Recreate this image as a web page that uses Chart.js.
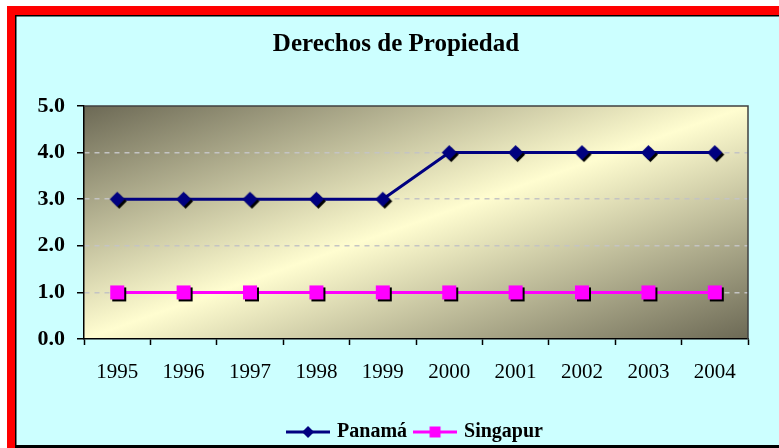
<!DOCTYPE html>
<html>
<head>
<meta charset="utf-8">
<script src="https://cdn.jsdelivr.net/npm/chart.js@4.4.0/dist/chart.umd.min.js"></script>
<style>
  html, body { margin: 0; padding: 0; background: #fff; overflow: hidden; }
  #wrap { width: 779px; height: 448px; }
</style>
</head>
<body>
<div id="wrap"><canvas id="propChart" width="779" height="448"></canvas></div>
<script>
// datos del gráfico
const years = ['1995', '1996', '1997', '1998', '1999', '2000', '2001', '2002', '2003', '2004'];
const panama = [3, 3, 3, 3, 3, 4, 4, 4, 4, 4];
const singapur = [1, 1, 1, 1, 1, 1, 1, 1, 1, 1];
const yMin = 0;
const yMax = 5;
const yStep = 1;

// marcador con sombra negra (como en Excel)
function makeMarker(shape, color, size, shadow) {
    const off = shadow ? 2 : 0;
    const dim = Math.ceil(size + 2 * off + 2);
    const c = document.createElement('canvas');
    c.width = dim;
    c.height = dim;
    const g = c.getContext('2d');
    const mid = dim / 2;
    const draw = (d, fill) => {
        g.fillStyle = fill;
        g.beginPath();
        if (shape === 'diamond') {
            g.moveTo(mid + d, mid + d - size / 2);
            g.lineTo(mid + d + size / 2, mid + d);
            g.lineTo(mid + d, mid + d + size / 2);
            g.lineTo(mid + d - size / 2, mid + d);
            g.closePath();
        } else {
            g.rect(mid + d - size / 2, mid + d - size / 2, size, size);
        }
        g.fill();
    };
    if (shadow) draw(off, '#000');
    draw(0, color);
    return c;
}

// muestra de leyenda: línea + marcador
function makeLegendSample(shape, color, size) {
    const c = document.createElement('canvas');
    c.width = 44;
    c.height = 16;
    const g = c.getContext('2d');
    g.strokeStyle = color;
    g.lineWidth = 3;
    g.beginPath();
    g.moveTo(0, 8);
    g.lineTo(44, 8);
    g.stroke();
    const m = makeMarker(shape, color, size, false);
    g.drawImage(m, 22 - m.width / 2, 8 - m.height / 2);
    return c;
}

const panamaPoint = makeMarker('diamond', '#000080', 15, true);
const singapurPoint = makeMarker('square', '#ff00ff', 14, true);
const legendSamples = [
    makeLegendSample('diamond', '#000080', 12),
    makeLegendSample('square', '#ff00ff', 11)
];

// marco rojo, fondo cian y degradado del área de trazado
const frameAndPlot = {
    id: 'frameAndPlot',
    beforeDraw(chart) {
        const ctx = chart.ctx;
        const W = chart.width, H = chart.height;
        ctx.save();
        ctx.fillStyle = '#ffffff';
        ctx.fillRect(0, 0, W, H);
        ctx.fillStyle = '#ff0000';
        ctx.fillRect(7, 6, W - 7, H - 6);
        ctx.fillStyle = '#000000';
        ctx.fillRect(15, 15, W - 15, H - 15);
        ctx.fillStyle = '#ccffff';
        ctx.fillRect(16.5, 16.5, W - 16.5, 445 - 16.5);

        const a = chart.chartArea;
        const w = a.right - a.left, h = a.bottom - a.top;
        const cx = (a.left + a.right) / 2, cy = (a.top + a.bottom) / 2;
        const k = (w * h) / (w * w + h * h);
        const grad = ctx.createLinearGradient(cx - h * k, cy - w * k, cx + h * k, cy + w * k);
        grad.addColorStop(0, '#6c6955');
        grad.addColorStop(0.5, '#fffdd0');
        grad.addColorStop(1, '#6c6955');
        ctx.fillStyle = grad;
        ctx.fillRect(a.left, a.top, w, h);
        ctx.restore();
    },
    beforeDatasetsDraw(chart) {
        const ctx = chart.ctx;
        const a = chart.chartArea;
        ctx.save();
        ctx.strokeStyle = '#404040';
        ctx.lineWidth = 1.5;
        ctx.beginPath();
        ctx.moveTo(a.left, a.top);
        ctx.lineTo(a.right, a.top);
        ctx.lineTo(a.right, a.bottom);
        ctx.stroke();
        ctx.restore();
    }
};

const ctx = document.getElementById('propChart').getContext('2d');
const propChart = new Chart(ctx, {
    type: 'line',
    data: {
        labels: years,
        datasets: [{
            label: 'Panamá',
            data: panama,
            borderColor: '#000080',
            backgroundColor: '#000080',
            borderWidth: 3,
            tension: 0,
            pointStyle: panamaPoint
        }, {
            label: 'Singapur',
            data: singapur,
            borderColor: '#ff00ff',
            backgroundColor: '#ff00ff',
            borderWidth: 3,
            tension: 0,
            pointStyle: singapurPoint
        }]
    },
    options: {
        responsive: false,
        animation: false,
        events: [],
        layout: {
            padding: { left: 33, right: 20, top: 0, bottom: -4 }
        },
        plugins: {
            title: {
                display: true,
                text: 'Derechos de Propiedad',
                color: '#000',
                font: { family: 'Liberation Serif', size: 25, weight: 'bold' },
                padding: { top: 30, bottom: 46 }
            },
            legend: {
                display: true,
                position: 'bottom',
                fullSize: false,
                labels: {
                    usePointStyle: true,
                    pointStyleWidth: 38,
                    padding: 9,
                    color: '#000',
                    font: { family: 'Liberation Serif', size: 20, weight: 'bold' },
                    generateLabels: chart => chart.data.datasets.map((ds, i) => ({
                        text: ds.label,
                        pointStyle: legendSamples[i],
                        fillStyle: ds.borderColor,
                        strokeStyle: ds.borderColor,
                        fontColor: '#000',
                        lineWidth: 0,
                        hidden: false,
                        datasetIndex: i
                    }))
                }
            },
            tooltip: { enabled: false }
        },
        scales: {
            x: {
                offset: true,
                afterFit: scale => { scale.height = 74; },
                grid: {
                    offset: true,
                    drawOnChartArea: false,
                    tickLength: 6,
                    tickColor: '#000',
                    tickWidth: 1.5
                },
                border: { color: '#000', width: 1.5 },
                ticks: {
                    color: '#000',
                    padding: 15,
                    maxRotation: 0,
                    font: { family: 'Liberation Serif', size: 21 }
                }
            },
            y: {
                min: yMin,
                max: yMax,
                afterFit: scale => { scale.width = 51; },
                grid: {
                    color: c => (c.tick && (c.tick.value === yMin || c.tick.value === yMax)) ? 'rgba(0,0,0,0)' : '#c4c4c4',
                    lineWidth: 1.5,
                    tickLength: 7,
                    tickColor: '#000',
                    tickWidth: 1.5
                },
                border: { color: '#000', width: 1.5, dash: [5, 5] },
                ticks: {
                    stepSize: yStep,
                    color: '#000',
                    padding: 12,
                    font: { family: 'Liberation Serif', size: 22, weight: 'bold' },
                    callback: v => v.toFixed(1)
                }
            },
            // eje vacío a la derecha: sólo reserva espacio para centrar el título
            yRight: {
                position: 'right',
                display: true,
                afterFit: scale => { scale.width = 11; },
                grid: { display: false },
                border: { display: false },
                ticks: { display: false }
            }
        }
    },
    plugins: [frameAndPlot]
});
</script>
</body>
</html>
